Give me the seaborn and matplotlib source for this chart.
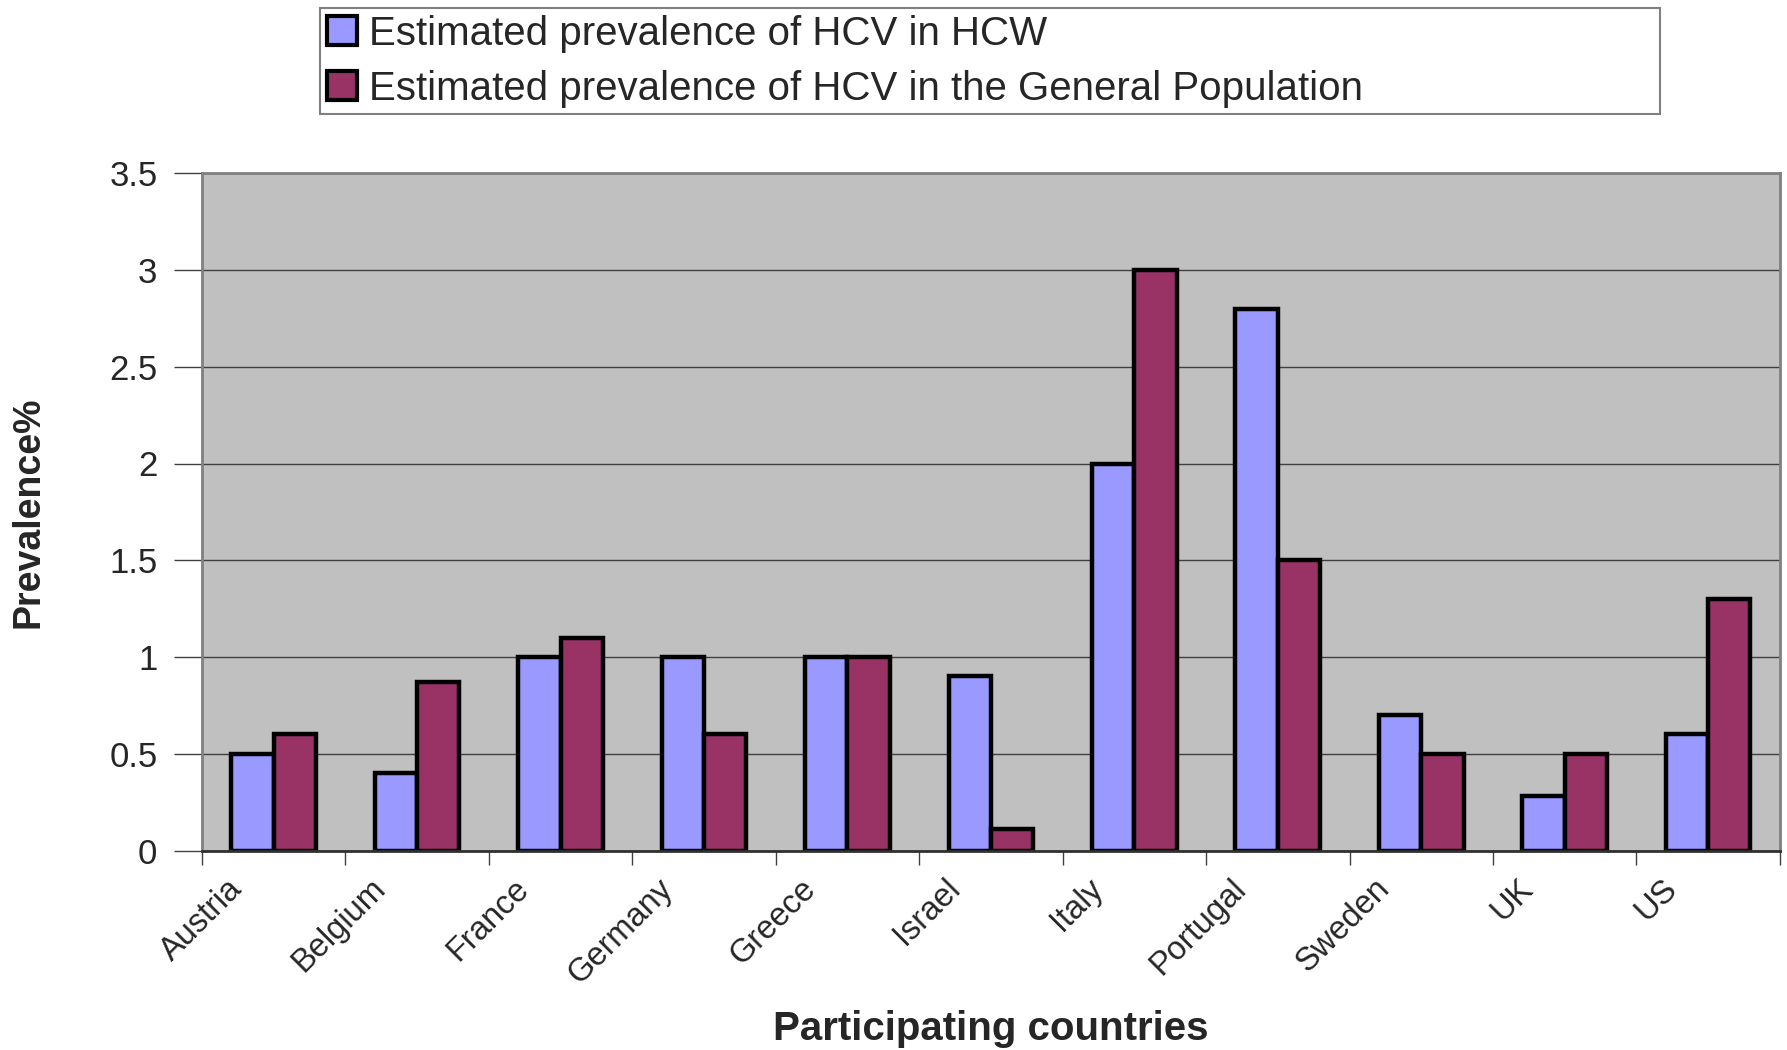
import matplotlib
matplotlib.use('Agg')
import matplotlib.pyplot as plt
import matplotlib.transforms as mtransforms
import seaborn as sns
import pandas as pd
import numpy as np

countries = ["Austria", "Belgium", "France", "Germany", "Greece", "Israel",
             "Italy", "Portugal", "Sweden", "UK", "US"]
hcw = [0.5, 0.4, 1.0, 1.0, 1.0, 0.9, 2.0, 2.8, 0.7, 0.28, 0.6]
general = [0.6, 0.87, 1.1, 0.6, 1.0, 0.11, 3.0, 1.5, 0.5, 0.5, 1.3]
series_names = ["Estimated prevalence of HCV in HCW",
                "Estimated prevalence of HCV in the General Population"]
y_ticks = [0, 0.5, 1, 1.5, 2, 2.5, 3, 3.5]
y_tick_labels = ["0", "0.5", "1", "1.5", "2", "2.5", "3", "3.5"]

df = pd.DataFrame({
    "Country": countries * 2,
    "Prevalence": hcw + general,
    "Series": [series_names[0]] * len(countries) + [series_names[1]] * len(countries),
})

sns.set_theme(style="white")
plt.rcParams['font.family'] = ['Liberation Sans', 'DejaVu Sans']

fig = plt.figure(figsize=(17.87, 10.5), dpi=100)
ax = fig.add_axes([0.113, 0.190, 0.883, 0.645])

sns.barplot(data=df, x="Country", y="Prevalence", hue="Series",
            palette=["#9999FF", "#993366"], width=0.59, gap=0,
            edgecolor="black", linewidth=3.2, saturation=1, ax=ax)

ax.set_facecolor("#C0C0C0")
ax.set_ylim(0, 3.5)
ax.set_xlim(-0.5, len(countries) - 0.5)
ax.set_yticks(y_ticks)
ax.set_yticklabels(y_tick_labels, fontsize=25)
ax.yaxis.grid(True, color="#404040", linewidth=1.0)
ax.xaxis.grid(False)
ax.set_axisbelow(True)

for s in ax.spines.values():
    s.set_color("#808080")
    s.set_linewidth(2)
    s.set_visible(True)
ax.spines['bottom'].set_color("#303030")

ax.tick_params(axis='y', which='major', direction='out', length=20, width=1,
               color="#404040", pad=12, left=True)
ax.set_xticks(range(len(countries)))
ax.set_xticklabels(countries, fontsize=23.5, rotation=45, ha='right',
                   va='center', rotation_mode='anchor')
ax.tick_params(axis='x', which='major', length=0, pad=24, bottom=True)
ax.set_xticks(np.arange(-0.5, len(countries), 1.0), minor=True)
ax.tick_params(axis='x', which='minor', direction='out', length=10, width=1,
               color="#404040", bottom=True)
offset = mtransforms.ScaledTranslation(-0.36, 0, fig.dpi_scale_trans)
for lab in ax.get_xticklabels():
    lab.set_transform(lab.get_transform() + offset)

ax.set_ylabel("Prevalence%", fontsize=27, fontweight='bold')
ax.yaxis.label.set_va('center')
ax.yaxis.set_label_coords(-0.110, 0.5)
ax.set_xlabel("Participating countries", fontsize=29, fontweight='bold')
ax.xaxis.label.set_va('center')
ax.xaxis.set_label_coords(0.5, -0.263)

handles, labels = ax.get_legend_handles_labels()
if ax.get_legend() is not None:
    ax.get_legend().remove()
leg = fig.legend(handles, labels, loc='lower left',
                 bbox_to_anchor=(0.179, 0.891, 0.750, 0.103), mode='expand',
                 fontsize=29, handlelength=0.75, handleheight=0.75,
                 handletextpad=0.3, labelspacing=0.42, borderpad=0.17,
                 borderaxespad=0, fancybox=False, framealpha=1,
                 edgecolor="#808080", facecolor="white")
leg.get_frame().set_linewidth(1.5)
for h in leg.legend_handles:
    h.set_edgecolor("black")
    h.set_linewidth(3)

fig.savefig("out.png", dpi=100)
